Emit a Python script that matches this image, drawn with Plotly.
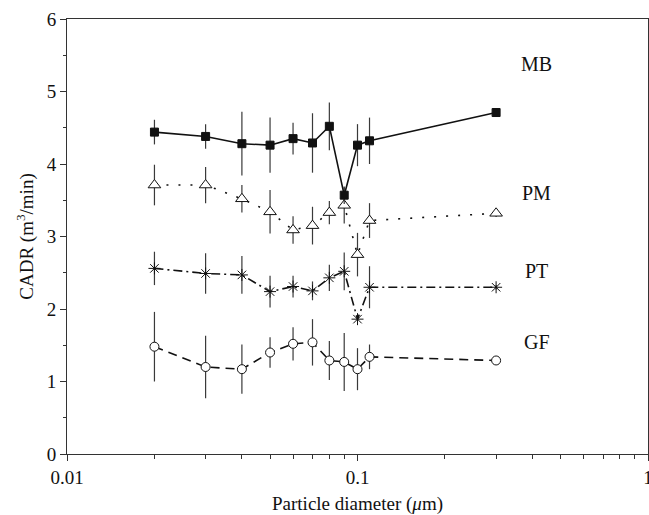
import math
import plotly.graph_objects as go

# Particle diameters (um)
diameter = [0.02, 0.03, 0.04, 0.05, 0.06, 0.07, 0.08, 0.09, 0.1, 0.11, 0.3]

# CADR (m^3/min) and standard deviations for each filter type
mb = [4.44, 4.38, 4.28, 4.26, 4.35, 4.29, 4.52, 3.57, 4.26, 4.32, 4.71]
mb_err = [0.17, 0.17, 0.44, 0.38, 0.22, 0.41, 0.33, 0.12, 0.29, 0.32, 0.06]

pm = [3.71, 3.71, 3.52, 3.34, 3.09, 3.15, 3.33, 3.43, 2.75, 3.22, 3.32]
pm_err = [0.28, 0.25, 0.19, 0.30, 0.19, 0.26, 0.16, 0.25, 0.30, 0.24, 0.05]

pt = [2.56, 2.49, 2.47, 2.24, 2.31, 2.25, 2.43, 2.52, 1.86, 2.30, 2.30]
pt_err = [0.23, 0.28, 0.26, 0.22, 0.15, 0.13, 0.18, 0.26, 0.03, 0.29, 0.03]

gf = [1.48, 1.20, 1.17, 1.40, 1.52, 1.54, 1.29, 1.27, 1.17, 1.34, 1.29]
gf_err = [0.48, 0.43, 0.34, 0.21, 0.23, 0.32, 0.27, 0.40, 0.29, 0.17, 0.0]

# Series name labels placed to the right of the curves
label_names = ["MB", "PM", "PT", "GF"]
label_x = [0.414, 0.414, 0.414, 0.414]
label_y = [5.38, 3.60, 2.52, 1.55]

# Axis tick labels
x_ticks = [0.01, 0.1, 1]
x_ticktext = ["0.01", "0.1", "1"]
y_ticks = [0, 1, 2, 3, 4, 5, 6]

FONT = "Liberation Serif, Times New Roman, serif"
INK = "#111111"


def series(y, err, dash, symbol, size, fill):
    return go.Scatter(
        x=diameter,
        y=y,
        mode="lines+markers",
        line=dict(color=INK, width=1.6, dash=dash),
        marker=dict(symbol=symbol, size=size, color=fill,
                    line=dict(color=INK, width=1)),
        error_y=dict(type="data", array=err, visible=True,
                     thickness=1.2, width=0, color="#3a3a3a"),
        showlegend=False,
    )


fig = go.Figure()
fig.add_trace(series(gf, gf_err, "9px,6px", "circle", 9, "white"))
fig.add_trace(series(pt, pt_err, "9px,4px,2px,4px", "asterisk-open", 10, INK))
fig.add_trace(series(pm, pm_err, "2px,10px", "triangle-up", 11, "white"))
fig.add_trace(series(mb, mb_err, "solid", "square", 8, INK))

for name, lx, ly in zip(label_names, label_x, label_y):
    fig.add_annotation(x=math.log10(lx), y=ly, text=name, showarrow=False,
                       xanchor="center", yanchor="middle",
                       font=dict(family=FONT, size=20, color=INK))

axis_common = dict(
    showline=True, linecolor="#333333", linewidth=1, mirror=True,
    ticks="outside", tickcolor="#333333", tickwidth=1,
    showgrid=False, zeroline=False, automargin=False,
    tickfont=dict(family=FONT, size=19, color=INK),
)

fig.update_xaxes(
    type="log", range=[-2, 0],
    tickvals=x_ticks, ticktext=x_ticktext, ticklen=6,
    ticklabeloverflow="allow",
    minor=dict(ticks="outside", ticklen=4, tickcolor="#333333",
               tickvals=[m * d for d in (0.01, 0.1) for m in range(2, 10)]),
    title=dict(text="Particle diameter (<i>μ</i>m)", standoff=10,
               font=dict(family=FONT, size=19, color=INK)),
    **axis_common,
)
fig.update_yaxes(
    range=[0, 6], tickvals=y_ticks, ticklen=6,
    minor=dict(ticks="outside", ticklen=3, tickcolor="#333333",
               tickvals=[0.5, 1.5, 2.5, 3.5, 4.5, 5.5]),
    title=dict(text="CADR (m<sup>3</sup>/min)", standoff=8,
               font=dict(family=FONT, size=19, color=INK)),
    **axis_common,
)

fig.update_layout(
    width=649, height=515,
    margin=dict(l=67, r=1, t=19, b=61),
    paper_bgcolor="white", plot_bgcolor="white",
)

fig.write_html("out.html")
